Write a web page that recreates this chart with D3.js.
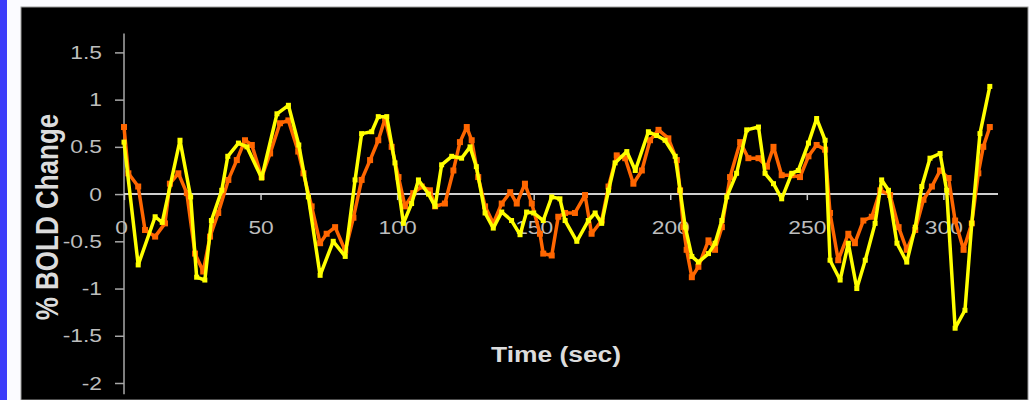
<!DOCTYPE html>
<html><head><meta charset="utf-8">
<script src="https://cdn.jsdelivr.net/npm/d3@7"></script>
<style>html,body{margin:0;padding:0;background:#fff;}svg{display:block;}</style>
</head><body>
<svg id="c" width="1030" height="400"></svg>
<script>
// Time (sec) of each yellow sample
const yellowTime = [0,5.2,11.4,14,20.5,24.4,26.6,29.6,32,35.8,38,41.9,45,50.4,56,60.2,64,67.5,71.8,76.6,81,84.6,87,90.7,93.1,96.2,99.2,102.3,105.3,107.8,111.5,113.9,116.3,120,123.6,126.7,129,132.2,135.2,138.3,141.9,145,147.4,150,153.5,156.6,159.6,161.5,165.8,170,172.5,174.9,177.4,179.8,184.1,187.2,192,195,198.1,201.8,203.6,205.5,207.9,210.3,214,216.4,218.9,220.7,224.3,228,232.3,234.7,237.8,240.8,244.5,246.9,250.6,253.6,256.7,258.5,262.2,265.2,268.3,271.4,275,277.4,279.9,283,286.6,289.7,292.1,295.1,298.8,301.2,304.3,307.9,310.4,313.4,317];
const yellowValues = [0.55,-0.75,-0.24,-0.3,0.57,-0.03,-0.88,-0.91,-0.28,0.04,0.4,0.54,0.5,0.17,0.85,0.94,0.52,-0.03,-0.86,-0.5,-0.66,0.15,0.64,0.66,0.82,0.82,0.33,-0.31,-0.1,0.15,0.0,-0.13,0.31,0.4,0.38,0.5,0.29,-0.2,-0.36,-0.19,-0.28,-0.43,-0.19,-0.2,-0.28,-0.03,-0.05,-0.28,-0.5,-0.28,-0.2,-0.31,0.04,0.33,0.45,0.25,0.66,0.62,0.57,0.4,0.04,-0.35,-0.66,-0.72,-0.63,-0.52,-0.28,-0.03,0.22,0.68,0.71,0.22,0.11,-0.05,0.22,0.25,0.54,0.8,0.57,-0.7,-0.91,-0.52,-1.0,-0.7,-0.31,0.15,0.04,-0.52,-0.72,-0.35,0.08,0.38,0.43,0.04,-1.42,-1.23,-0.31,0.64,1.14];
// Time (sec) of each orange sample
const orangeTime = [0,1.6,5.2,7.7,11.4,15,16.8,19.9,23,26,29,31.5,34.5,38.2,41.3,44.3,46.8,50.4,53.5,57.1,60.2,63.8,65.7,68.7,71.8,74.2,77.3,81,84,87,90.1,93.1,95.6,98,100.5,102.9,105.9,109,112,113.9,117.5,120.6,123,125.5,127.3,129.7,132.2,135.2,138.3,141.4,143.8,146.8,149.3,152.3,153.5,156.6,159,161.5,165.1,168.8,171.2,174.9,177.4,180.4,183.5,186.5,189.6,192.6,195.7,199.3,202.4,203.6,204.8,206,207.9,210.3,214,216.4,218.9,221.9,225.6,228.6,232.3,235.4,237.8,240.8,244.5,247.5,250.6,253.6,256.7,258.5,261.5,265.2,267.6,270.7,273.8,276.9,280.5,283.6,286.6,289.7,292.7,295.8,298.8,301.9,304.3,307.4,310.4,312.8,314.6,317];
const orangeValues = [0.71,0.22,0.08,-0.38,-0.45,-0.31,0.11,0.22,0.01,-0.63,-0.82,-0.45,-0.2,0.15,0.36,0.57,0.52,0.18,0.43,0.75,0.78,0.45,0.22,-0.13,-0.52,-0.42,-0.35,-0.6,-0.25,0.15,0.36,0.57,0.8,0.5,0.18,-0.13,0.01,0.08,0.04,-0.13,-0.1,0.25,0.55,0.71,0.57,0.18,-0.13,-0.31,-0.1,0.02,-0.1,0.11,-0.1,-0.42,-0.63,-0.65,-0.24,-0.2,-0.2,-0.01,-0.42,-0.28,0.08,0.41,0.38,0.11,0.25,0.57,0.68,0.59,0.36,0.04,-0.35,-0.59,-0.88,-0.77,-0.49,-0.59,-0.35,0.18,0.55,0.38,0.38,0.29,0.5,0.2,0.2,0.18,0.4,0.52,0.47,-0.2,-0.7,-0.42,-0.52,-0.28,-0.24,0.04,-0.01,-0.35,-0.59,-0.38,-0.06,0.08,0.25,0.17,-0.28,-0.59,-0.31,0.22,0.5,0.71];
const xTicks = [0,50,100,150,200,250,300];
const yTicks = [-2,-1.5,-1,-0.5,0,0.5,1,1.5];

const svg = d3.select("#c");
// frame
svg.append("rect").attr("x",0).attr("y",0).attr("width",1030).attr("height",400).attr("fill","#fbfbff");
svg.append("rect").attr("x",0).attr("y",0).attr("width",7).attr("height",400).attr("fill","#3c3cfa");
svg.append("rect").attr("x",21).attr("y",7).attr("width",1007).attr("height",393).attr("fill","#000").attr("stroke","#9a9a9a").attr("stroke-width",1);

const x = d3.scaleLinear().domain([0,320]).range([124,998]);
const y = d3.scaleLinear().domain([-2,1.5]).range([383,52.4]);
const SX = 1.2;
const fmt = d => String(d);

// y axis
const ya = svg.append("g").attr("transform",`translate(${x(0)},0)`)
  .call(d3.axisLeft(y).tickValues(yTicks).tickSize(9).tickFormat(fmt));
ya.select(".domain").remove();
ya.selectAll(".tick line").attr("stroke","#a8a8a8").attr("stroke-width",1.5);
ya.selectAll(".tick text").attr("x",-22/SX).attr("transform",`scale(${SX},1)`)
  .attr("fill","#bdbdbd").attr("font-family","Liberation Sans, Arial, sans-serif").attr("font-size",19);
svg.append("line").attr("x1",x(0)).attr("x2",x(0)).attr("y1",y(1.7)).attr("y2",y(-2.12))
  .attr("stroke","#a8a8a8").attr("stroke-width",1.5);

// x axis on zero line
const xa = svg.append("g").attr("transform",`translate(0,${y(0)})`)
  .call(d3.axisBottom(x).tickValues(xTicks).tickSize(6).tickPadding(20).tickFormat(fmt));
xa.select(".domain").remove();
xa.selectAll(".tick line").attr("stroke","#c8c8c8").attr("stroke-width",1.5);
xa.selectAll(".tick text").attr("transform",`scale(${SX},1)`)
  .attr("fill","#bdbdbd").attr("font-family","Liberation Sans, Arial, sans-serif").attr("font-size",19);
xa.selectAll(".tick").filter(d=>d===0).select("text").attr("x",-3/SX);
svg.append("line").attr("x1",x(0)).attr("x2",x(320)).attr("y1",y(0)).attr("y2",y(0))
  .attr("stroke","#cfcfcf").attr("stroke-width",2);

// titles
svg.append("text").attr("transform",`translate(556,362) scale(${SX},1)`).attr("text-anchor","middle")
  .attr("fill","#dcdcdc").attr("font-family","Liberation Sans, Arial, sans-serif").attr("font-weight","bold").attr("font-size",22)
  .text("Time (sec)");
svg.append("text").attr("transform",`translate(58,217) scale(${SX},1) rotate(-90)`).attr("text-anchor","middle")
  .attr("fill","#dcdcdc").attr("font-family","Liberation Sans, Arial, sans-serif").attr("font-weight","bold").attr("font-size",26)
  .text("% BOLD Change");

function series(times, vals, color, ms){
  const pts = times.map((t,i)=>[t,vals[i]]);
  svg.append("path").datum(pts).attr("fill","none").attr("stroke",color).attr("stroke-width",3.5)
    .attr("stroke-linejoin","round")
    .attr("d", d3.line().x(d=>x(d[0])).y(d=>y(d[1])));
  svg.append("g").selectAll("rect").data(pts).join("rect")
    .attr("x",d=>x(d[0])-ms/2).attr("y",d=>y(d[1])-ms/2).attr("width",ms).attr("height",ms).attr("fill",color);
}
series(orangeTime, orangeValues, "#ff6600", 6);
series(yellowTime, yellowValues, "#ffff00", 5);
</script>
</body></html>
